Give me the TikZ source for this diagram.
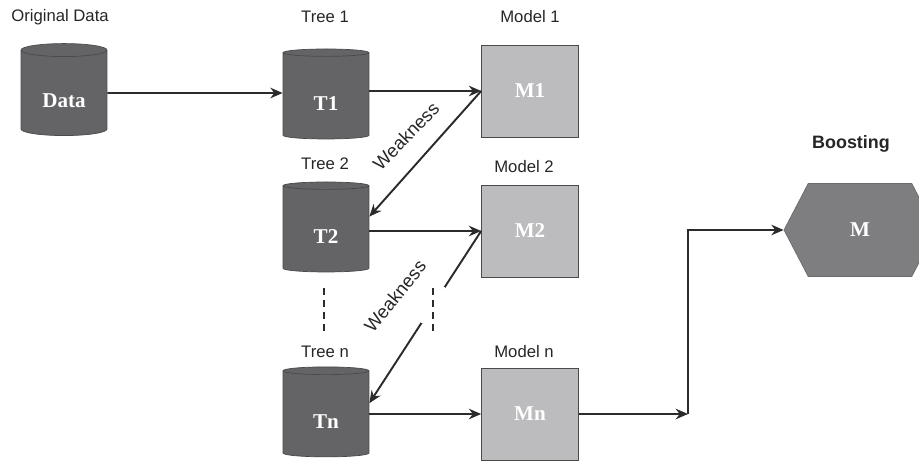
\documentclass[tikz,border=0pt]{standalone}
\usepackage{fontspec}
\setmainfont{Liberation Serif}
\setsansfont{Liberation Sans}
\usetikzlibrary{positioning,shapes.geometric,shapes.symbols,arrows.meta}
\definecolor{treegrey}{HTML}{646466}
\definecolor{treeedge}{HTML}{4A4A4C}
\definecolor{modelgrey}{HTML}{BCBCBE}
\definecolor{modeledge}{HTML}{4A4A4A}
\definecolor{boostgrey}{HTML}{7E7E81}
\definecolor{flowline}{HTML}{2B2B2B}

\begin{document}
\begin{tikzpicture}[
  x=0.02cm, y=-0.02cm,
  store/.style={cylinder, shape border rotate=90, aspect=0.3, draw=treeedge, fill=treegrey,
    minimum width=1.72cm, minimum height=1.80cm, text=white, inner sep=0pt,
    text height=17pt, text depth=0pt,
    font=\bfseries\fontsize{12}{14}\selectfont},
  model/.style={rectangle, draw=modeledge, fill=modelgrey, minimum width=1.94cm, minimum height=1.84cm,
    text=white, font=\bfseries\fontsize{12}{14}\selectfont},
  boost/.style={signal, signal to=west and east, signal pointer angle=125,
    draw=boostgrey!85!black, fill=boostgrey, minimum width=3.04cm, minimum height=1.86cm,
    inner sep=0pt, text=white, font=\bfseries\fontsize{12}{14}\selectfont},
  lbl/.style={font=\sffamily\fontsize{9.5}{11}\selectfont, text=black!85},
  weak/.style={font=\sffamily\fontsize{10.5}{12}\selectfont, text=black!85},
  flow/.style={draw=flowline, line width=1.1pt, -{Stealth[length=7pt, width=6pt]}},
  dots/.style={draw=flowline, line width=1.1pt, dash pattern=on 4pt off 2.8pt},
  gapbox/.style={fill=white, minimum width=0.48cm, minimum height=0.72cm, inner sep=0pt},
]
\clip (0,0) rectangle (919,463);

% ---------- stores (trees) ----------
\node[store, minimum height=1.84cm] (data) at (64,93) {Data};
\node[store] (t1) at (326,96) {T1};
\node[store] (t2) at (326,229) {T2};
\node[store] (tn) at (326,414) {Tn};

% ---------- models ----------
\node[model] (m1) at (530,91) {M1};
\node[model] (m2) at (530,231) {M2};
\node[model] (mn) at (530,414) {Mn};

% ---------- boosting ----------
\node[boost] (boost) at (860,230) {M};

% ---------- titles ----------
\node[lbl] (tdata) at (60,17) {Original Data};
\node[lbl] (tt1) at (325,17) {Tree 1};
\node[lbl] (tm1) at (530,17) {Model 1};
\node[lbl] (tt2) at (325,164) {Tree 2};
\node[lbl] (tm2) at (524,167) {Model 2};
\node[lbl] (ttn) at (325,352) {Tree n};
\node[lbl] (tmn) at (524,352) {Model n};
\node[lbl, font=\sffamily\bfseries\fontsize{10.2}{12}\selectfont] (tboost) at (851,144) {Boosting};

% ---------- main flow ----------
\draw[flow] (data) -- (data -| t1.west);
\draw[flow] (t1.east |- m1.west) -- (m1.west);
\draw[flow] (t2.east |- m2.west) -- (m2.west);
\draw[flow] (tn.east |- mn.west) -- (mn.west);

% ---------- weakness feedback ----------
\draw[flow] (m1.west) -- (t2.16);
\node[weak, rotate=46] (w1) at (406,136) {Weakness};
\draw[flow] (m2.west) -- (tn.14);
\node[weak, rotate=51] (w2) at (395,296) {Weakness};

% ---------- dotted continuation ----------
\node[gapbox] (gap) at (433,305) {};
\coordinate (d1a) at (324,288);
\coordinate (d1b) at (324,333);
\coordinate (d2a) at (433,288);
\coordinate (d2b) at (433,333);
\draw[dots] (d1a) -- (d1b);
\draw[dots] (d2a) -- (d2b);

% ---------- to boosting ----------
\coordinate (join) at (688,414);
\draw[flow] (mn.east) -- (join);
\draw[flow] (join) |- (boost.west);

\end{tikzpicture}
\end{document}
